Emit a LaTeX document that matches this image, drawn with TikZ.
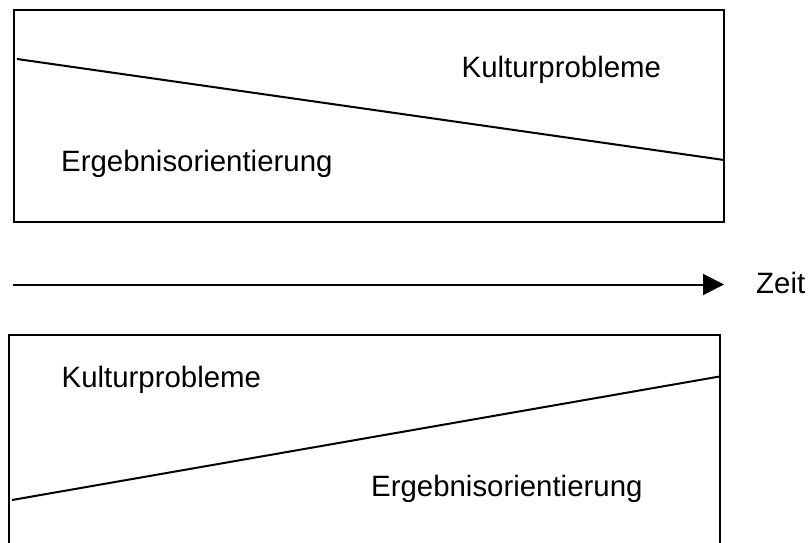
\documentclass[tikz,border=0pt]{standalone}
\usepackage{fontspec}
\setmainfont{Liberation Sans}
\usetikzlibrary{arrows.meta}
\begin{document}
\begin{tikzpicture}[x=1pt,y=-1pt,
  frame/.style={line width=2pt, line join=miter},
  divider/.style={line width=2pt},
  lbl/.style={anchor=base west, inner sep=0pt, font=\fontsize{29.4}{34}\selectfont}]
\useasboundingbox (0,0) rectangle (808,543);
\clip (0,0) rectangle (808,543);
% top panel
\draw[frame] (13.5,10.5) rectangle (724,222);
\coordinate (t1) at (17,59);
\coordinate (t2) at (724,160);
\draw[divider] (t1) -- (t2);
\node[lbl] (tk) at (461.5,77.7) {Kulturprobleme};
\node[lbl] (te) at (61,171.7) {Ergebnisorientierung};
% time arrow
\coordinate (a1) at (13,284.5);
\coordinate (a2) at (724,284.5);
\draw[divider, -{Triangle[length=21pt,width=21pt]}] (a1) -- (a2);
\node[lbl] (zeit) at (756,293.5) {Zeit};
% bottom panel
\draw[frame] (8.5,335) rectangle (719.5,560);
\coordinate (b1) at (12,500);
\coordinate (b2) at (719.5,376.5);
\draw[divider] (b1) -- (b2);
\node[lbl] (bk) at (61.5,387.7) {Kulturprobleme};
\node[lbl] (be) at (371,496.7) {Ergebnisorientierung};
\end{tikzpicture}
\end{document}
